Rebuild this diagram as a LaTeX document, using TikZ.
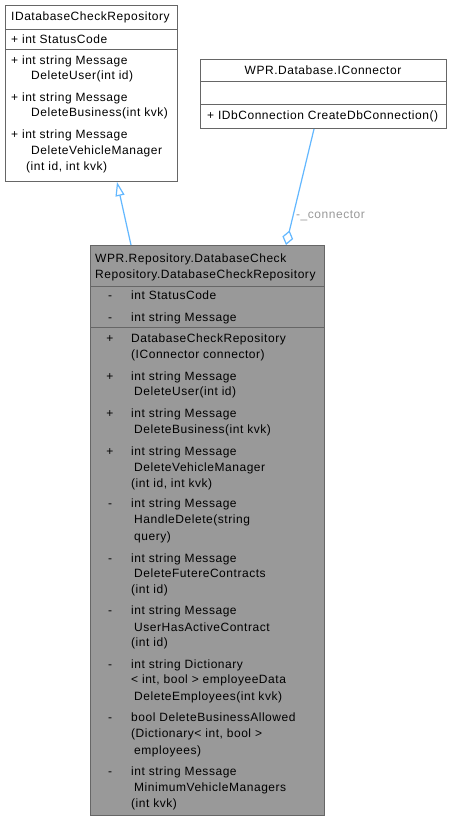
\documentclass[tikz,border=0pt]{standalone}
\usepackage{fontspec}
\setmainfont{Liberation Sans}[LetterSpace=4.5]
\usetikzlibrary{arrows.meta,calc}
\definecolor{boxborder}{HTML}{666666}
\definecolor{hl}{HTML}{999999}
\definecolor{edge}{HTML}{63B8FF}
\definecolor{lbl}{HTML}{9A9A9A}
\begin{document}
\begin{tikzpicture}[x=1pt,y=-1pt,
  box/.style={draw=boxborder, line width=1pt, inner sep=0, anchor=north west},
  sep/.style={draw=boxborder, line width=1pt},
  txt/.style={font=\fontsize{12}{14}\selectfont, anchor=base west, inner sep=0},
  vis/.style={font=\fontsize{12}{14}\selectfont, anchor=base, inner sep=0},
  inherit/.style={draw=edge, line width=1.2pt, -{Triangle[open, length=14pt, width=9pt, fill=white]}},
  aggr/.style={draw=edge, line width=1.2pt, -{Diamond[open, length=15pt, width=11pt, fill=white]}},
  edgelabel/.style={font=\fontsize{12}{14}\selectfont, text=lbl, anchor=base west, inner sep=0}]
\useasboundingbox (0,0) rectangle (451,821);
\fill[white] (0,0) rectangle (451,821);

% ---- IDatabaseCheckRepository ----
\node[box, fill=white, minimum width=172pt, minimum height=176pt] (b1) at (5,5) {};
\draw[sep] (5,30) -- (177,30);
\draw[sep] (5,50) -- (177,50);
\node[txt] (b1t) at (11,21) {IDatabaseCheckRepository};
\node[txt] (b1a1) at (11,44) {+ int StatusCode};
\node[txt] (b1m1) at (11,65) {+ int string Message};
\node[txt] (b1m1b) at (31,80) {DeleteUser(int id)};
\node[txt] (b1m2) at (11,102) {+ int string Message};
\node[txt] (b1m2b) at (31,117) {DeleteBusiness(int kvk)};
\node[txt] (b1m3) at (11,139) {+ int string Message};
\node[txt] (b1m3b) at (31,155) {DeleteVehicleManager};
\node[txt] (b1m3c) at (26,171) {(int id, int kvk)};

% ---- WPR.Database.IConnector ----
\node[box, fill=white, minimum width=246pt, minimum height=69pt] (b2) at (200,59) {};
\draw[sep] (200,82) -- (446,82);
\draw[sep] (200,105) -- (446,105);
\node[txt, anchor=base] (b2t) at (323,75) {WPR.Database.IConnector};
\node[txt] (b2m1) at (207,120) {+ IDbConnection CreateDbConnection()};

% ---- DatabaseCheckRepository ----
\node[box, fill=hl, minimum width=234pt, minimum height=570pt] (b3) at (90,245) {};
\draw[sep] (90,286) -- (324,286);
\draw[sep] (90,327) -- (324,327);
\node[txt] (b3t1) at (95,262) {WPR.Repository.DatabaseCheck};
\node[txt] (b3t2) at (95,278) {Repository.DatabaseCheckRepository};

\node[vis] (v1) at (110,299) {-};
\node[txt] (a1) at (131,299) {int StatusCode};
\node[vis] (v2) at (110,321) {-};
\node[txt] (a2) at (131,321) {int string Message};

\node[vis] (v3) at (110,342) {+};
\node[txt] (m1) at (131,342) {DatabaseCheckRepository};
\node[txt] (m1b) at (131,358) {(IConnector connector)};

\node[vis] (v4) at (110,380) {+};
\node[txt] (m2) at (131,380) {int string Message};
\node[txt] (m2b) at (134,395) {DeleteUser(int id)};

\node[vis] (v5) at (110,417) {+};
\node[txt] (m3) at (131,417) {int string Message};
\node[txt] (m3b) at (134,433) {DeleteBusiness(int kvk)};

\node[vis] (v6) at (110,455) {+};
\node[txt] (m4) at (131,455) {int string Message};
\node[txt] (m4b) at (134,471) {DeleteVehicleManager};
\node[txt] (m4c) at (131,487) {(int id, int kvk)};

\node[vis] (v7) at (110,507) {-};
\node[txt] (m5) at (131,507) {int string Message};
\node[txt] (m5b) at (134,523) {HandleDelete(string};
\node[txt] (m5c) at (134,540) {query)};

\node[vis] (v8) at (110,562) {-};
\node[txt] (m6) at (131,562) {int string Message};
\node[txt] (m6b) at (134,577) {DeleteFutereContracts};
\node[txt] (m6c) at (131,593) {(int id)};

\node[vis] (v9) at (110,614) {-};
\node[txt] (m7) at (131,614) {int string Message};
\node[txt] (m7b) at (134,631) {UserHasActiveContract};
\node[txt] (m7c) at (131,646) {(int id)};

\node[vis] (v10) at (110,668) {-};
\node[txt] (m8) at (131,668) {int string Dictionary};
\node[txt] (m8b) at (131,683) {< int, bool > employeeData};
\node[txt] (m8c) at (134,700) {DeleteEmployees(int kvk)};

\node[vis] (v11) at (110,721) {-};
\node[txt] (m9) at (131,721) {bool DeleteBusinessAllowed};
\node[txt] (m9b) at (131,737) {(Dictionary< int, bool >};
\node[txt] (m9c) at (134,754) {employees)};

\node[vis] (v12) at (110,775) {-};
\node[txt] (m10) at (131,775) {int string Message};
\node[txt] (m10b) at (134,791) {MinimumVehicleManagers};
\node[txt] (m10c) at (131,807) {(int kvk)};

% ---- connectors ----
\draw[inherit] ($(b3.north west)+(41,0)$) -- ($(b1.south west)+(112,0)$);
\draw[aggr] ($(b2.south west)+(114,0)$) -- ($(b3.north west)+(196,0)$);
\node[edgelabel] (lc) at (296,218) {-\_connector};
\end{tikzpicture}
\end{document}
